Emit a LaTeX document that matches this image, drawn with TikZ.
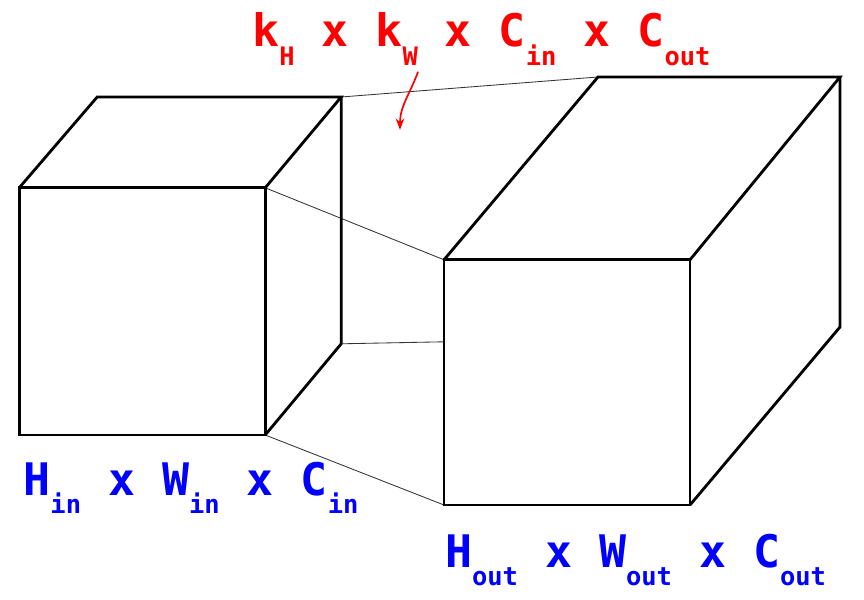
\documentclass[tikz,border=0pt]{standalone}
\usepackage{fontspec}
\usetikzlibrary{arrows.meta}
\setmonofont{DejaVu Sans Mono}
\newcommand{\lo}[1]{\raisebox{-0.41em}{\fontsize{18.1}{20}\selectfont #1}}

\begin{document}
\begin{tikzpicture}[
    rim/.style={line width=2pt, black},
    link/.style={line width=0.6pt, black!80},
    hint/.style={-{Stealth[length=8pt, width=6pt]}, line width=1.2pt, red},
    lbl/.style={font=\fontsize{31.9}{36}\selectfont\ttfamily\bfseries, inner sep=0pt, anchor=base west}
]
\useasboundingbox (0,0) rectangle (21.6,14.975);

% Input cube corners
\coordinate (inA) at (0.48, 4.10);
\coordinate (inB) at (6.63, 4.10);
\coordinate (inC) at (6.63, 10.28);
\coordinate (inD) at (0.48, 10.28);
\coordinate (inE) at (2.43, 12.55);
\coordinate (inF) at (8.53, 12.55);
\coordinate (inG) at (8.53, 6.38);

% Output cube corners
\coordinate (outA) at (11.10, 2.35);
\coordinate (outB) at (17.25, 2.35);
\coordinate (outC) at (17.25, 8.48);
\coordinate (outD) at (11.10, 8.48);
\coordinate (outE) at (14.95, 13.05);
\coordinate (outF) at (21.00, 13.05);
\coordinate (outG) at (21.00, 6.80);
\coordinate (outH) at (11.10, 6.43);

% Thin links between the cubes
\draw[link] (inF) -- (outE);
\draw[link] (inC) -- (outD);
\draw[link] (inG) -- (outH);
\draw[link] (inB) -- (outA);

% Input cube
\draw[rim] (inA) -- (inB) -- (inC) -- (inD) -- cycle;
\draw[rim] (inD) -- (inE) -- (inF) -- (inC);
\draw[rim] (inF) -- (inG) -- (inB);

% Output cube
\draw[rim] (outA) -- (outB) -- (outC) -- (outD) -- cycle;
\draw[rim] (outD) -- (outE) -- (outF) -- (outC);
\draw[rim] (outF) -- (outG) -- (outB);

% Kernel label and arrow
\node[lbl, text=red] (kern) at (6.30, 13.80) {k\lo{H} x k\lo{W} x C\lo{in} x C\lo{out}};
\coordinate (arrS) at (10.45, 13.18);
\coordinate (arrE) at (10.00, 11.73);
\draw[hint] (arrS) to[out=-110, in=90] (arrE);

% Size labels
\node[lbl, text=blue] (insz) at (0.58, 2.60) {H\lo{in} x W\lo{in} x C\lo{in}};
\node[lbl, text=blue] (outsz) at (11.12, 0.80) {H\lo{out} x W\lo{out} x C\lo{out}};

\end{tikzpicture}
\end{document}
